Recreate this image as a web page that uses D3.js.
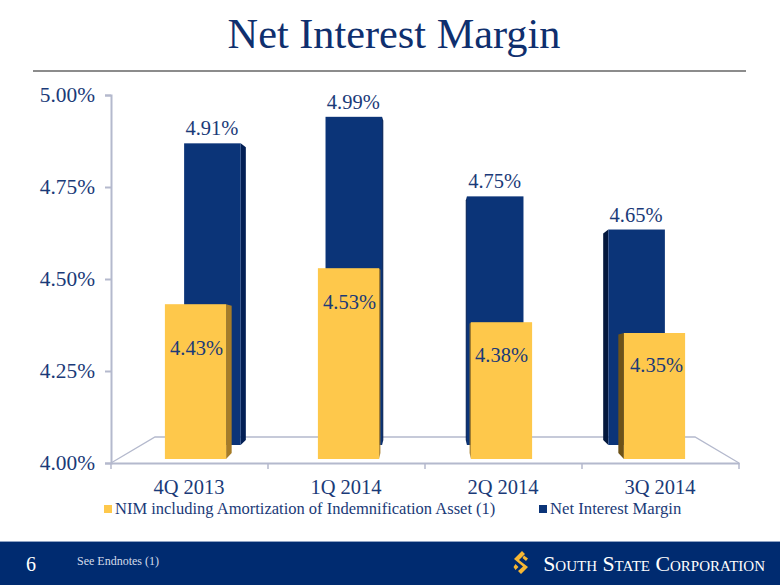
<!DOCTYPE html>
<html><head><meta charset="utf-8">
<script src="https://cdn.jsdelivr.net/npm/d3@7"></script>
<style>
html,body{margin:0;padding:0;background:#fff;}
svg{display:block;}
text{font-family:"Liberation Serif",serif;}
</style></head><body>
<svg id="c" width="780" height="585"></svg>
<script>
const categories = ["4Q 2013","1Q 2014","2Q 2014","3Q 2014"];
const nimIncluding = [4.43,4.53,4.38,4.35];
const netInterest = [4.91,4.99,4.75,4.65];
const yTicks = [4.00,4.25,4.50,4.75,5.00];
const seriesNames = ["NIM including Amortization of Indemnification Asset (1)","Net Interest Margin"];

const INK="#1a3a78", AXIS="#b4b9cd", BLUE="#0b3478", YEL="#fec84b";
const svg=d3.select("#c");

// title, rule
svg.append("text").attr("x",394).attr("y",48).attr("text-anchor","middle")
  .attr("font-size",42.3).attr("fill","#0f2f6e").text("Net Interest Margin");
svg.append("line").attr("x1",33).attr("x2",746).attr("y1",71).attr("y2",71)
  .attr("stroke","#8c8c8c").attr("stroke-width",2);

// scales: axis plane, back row (blue) and front row (yellow) of the 3-D box
const axisY=d3.scaleLinear().domain([4,5]).range([463,95]);
const frontY=d3.scaleLinear().domain([4,5]).range([459,99]);
const backY=d3.scaleLinear().domain([4,5]).range([445,113.5]);
const axisX=d3.scaleBand().domain(categories).range([111,739]);
const frontX=d3.scaleBand().domain(categories).range([119,731]).paddingInner(0.6).paddingOuter(0.3);
const backX=d3.scaleBand().domain(categories).range([141.7,707.3]).paddingInner(0.6).paddingOuter(0.3);
const VANISH=425, PERSP=0.028;

// floor
const g=svg.append("g");
g.append("path").attr("fill","none").attr("stroke",AXIS).attr("stroke-width",1.3)
  .attr("d",d3.line()([[111,463],[155,437],[695,437],[739,463]]));

// axes
const yAxis=d3.axisLeft(axisY).tickValues(yTicks).tickSize(6).tickFormat(d=>d3.format(".2f")(d)+"%");
const gy=svg.append("g").attr("transform","translate(111,0)").call(yAxis);
gy.selectAll("path,line").attr("stroke",AXIS).attr("stroke-width",2);
gy.selectAll("text").attr("font-size",21.4).attr("fill",INK).attr("x",-16).attr("dy","0.3em");
gy.selectAll("text").style("font-family",'"Liberation Serif",serif');
const xAxis=d3.axisBottom(axisX).tickValues([]).tickSize(0);
const gx=svg.append("g").attr("transform","translate(0,463)").call(xAxis);
gx.select("path").attr("stroke",AXIS).attr("stroke-width",2);
axisX.domain().concat("end").forEach((c,i)=>{
  const x=i<categories.length?axisX(c):axisX.range()[1];
  gx.append("line").attr("x1",x).attr("x2",x).attr("y1",0).attr("y2",6).attr("stroke",AXIS).attr("stroke-width",1.5);
});
svg.selectAll("text.cat").data(categories).join("text").attr("class","cat")
  .attr("x",d=>axisX(d)+axisX.bandwidth()/2-0.5).attr("y",494).attr("text-anchor","middle")
  .attr("font-size",20.5).attr("fill",INK).text(d=>d);

function bar(sel,x0,w,yTop,yBot,face,side,rise,lift){
  const x1=x0+w;
  const edge=x1<VANISH?x1:(x0>VANISH?x0:x1);
  const d=(VANISH-edge)*PERSP;
  sel.append("path").attr("fill",side).attr("d",d3.line()([
    [edge,yTop],[edge+d,yTop+rise],[edge+d,yBot-lift],[edge,yBot]])+"Z");
  sel.append("rect").attr("x",x0).attr("y",yTop).attr("width",w).attr("height",yBot-yTop).attr("fill",face);
}
categories.forEach((c,i)=>{
  bar(svg.append("g"),backX(c),backX.bandwidth(),backY(netInterest[i]),backY(4),BLUE,i===3?"#04183d":"#021f55",4,5);
});
categories.forEach((c,i)=>{
  bar(svg.append("g"),frontX(c),frontX.bandwidth(),frontY(nimIncluding[i]),frontY(4),YEL,i===3?"#6d5218":"#a67c28",1.5,6);
});

// data labels
const frontNudge=[[1,51],[1,41],[0,40],[2,39]];
svg.selectAll("text.bl").data(netInterest).join("text").attr("class","bl")
  .attr("x",(d,i)=>backX(categories[i])+backX.bandwidth()/2-0.5).attr("y",d=>backY(d)-8)
  .attr("text-anchor","middle").attr("font-size",20.5).attr("fill",INK).text(d=>d.toFixed(2)+"%");
svg.selectAll("text.ye").data(nimIncluding).join("text").attr("class","ye")
  .attr("x",(d,i)=>frontX(categories[i])+frontX.bandwidth()/2+frontNudge[i][0]).attr("y",(d,i)=>frontY(d)+frontNudge[i][1])
  .attr("text-anchor","middle").attr("font-size",20.5).attr("fill",INK).text(d=>d.toFixed(2)+"%");

// legend
svg.append("rect").attr("x",104).attr("y",505).attr("width",8).attr("height",8).attr("fill",YEL);
svg.append("text").attr("x",115).attr("y",513.5).attr("font-size",16.5).attr("fill",INK).text(seriesNames[0]);
svg.append("rect").attr("x",539).attr("y",505).attr("width",8).attr("height",8).attr("fill",BLUE);
svg.append("text").attr("x",550).attr("y",513.5).attr("font-size",16.7).attr("fill",INK).text(seriesNames[1]);

// footer
svg.append("rect").attr("x",0).attr("y",541).attr("width",780).attr("height",44).attr("fill","#002b70");
svg.append("rect").attr("x",0).attr("y",541).attr("width",780).attr("height",1).attr("fill","#8fa3c4");
svg.append("text").attr("x",31).attr("y",571).attr("text-anchor","middle").attr("font-size",20)
  .attr("fill","#fff").text("6");
svg.append("text").attr("x",77).attr("y",565).attr("font-size",12).attr("fill","#d5dcea").text("See Endnotes (1)");
// logo mark
const logo=svg.append("g").attr("transform","translate(513,551)").attr("fill","#f7b733");
logo.append("path").attr("d","M9 0 L12 3 L6 9 L15 16 L8 23 L5 20 L10 15.5 L1 8 Z");
logo.append("path").attr("d","M2.5 13 L5.5 16 L2.5 19 L0.5 16 Z M11 4.5 L15 7.5 L13 10 L9.5 7 Z");
svg.append("text").attr("x",765).attr("y",571).attr("text-anchor","end").attr("font-size",21.8)
  .attr("fill","#fff").style("font-variant","small-caps").text("South State Corporation");
</script>
</body></html>
